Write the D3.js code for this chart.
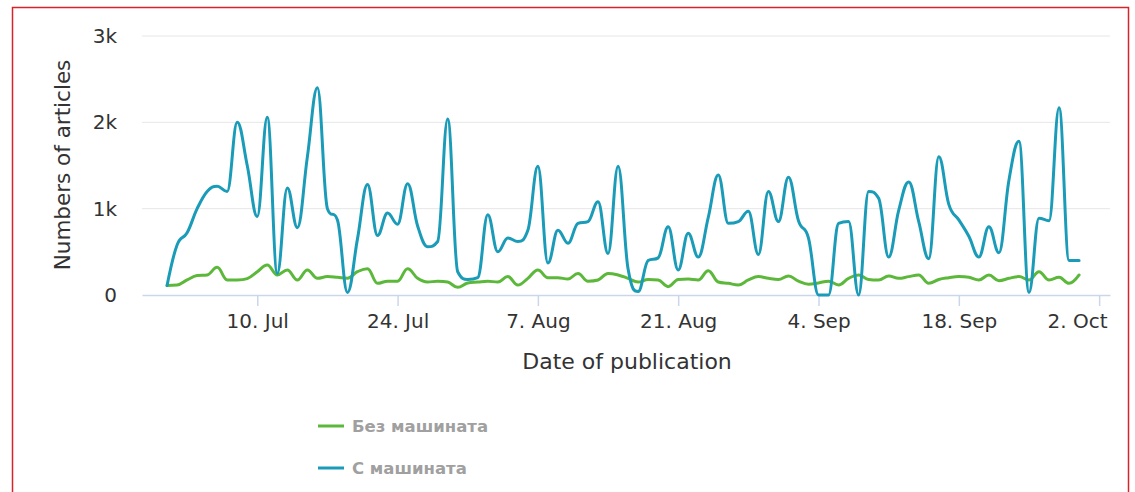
<!DOCTYPE html>
<html>
<head>
<meta charset="utf-8">
<script src="https://cdn.jsdelivr.net/npm/d3@7"></script>
<style>
  body { margin: 0; background: #fff; }
  text { font-family: "DejaVu Sans", sans-serif; }
</style>
</head>
<body>
<div id="chart"></div>
<script>
// daily counts, 1 Jul .. 30 Sep
var startDate = "2017-07-01";

var withMachine = [110, 580, 720, 1000, 1200, 1260, 1200, 2000, 1500, 910,
  2060, 250, 1240, 780, 1600, 2400, 1000, 870, 30, 650,
  1280, 690, 950, 820, 1290, 800, 560, 620, 2040, 270,
  180, 200, 930, 500, 660, 620, 750, 1490, 370, 750,
  600, 830, 850, 1080, 480, 1490, 300, 40, 400, 430,
  790, 290, 715, 440, 900, 1390, 830, 850, 970, 470,
  1200, 850, 1365, 860, 660, 0, 0, 830, 850, 0,
  1200, 1120, 440, 980, 1310, 850, 420, 1600, 1050, 870,
  680, 440, 790, 490, 1330, 1780, 30, 890, 860, 2170,
  400, 400];

var withoutMachine = [110, 115, 175, 225, 232, 320, 174, 174, 190, 270,
  348, 232, 290, 174, 290, 193, 213, 205, 195, 270,
  305, 135, 160, 160, 305, 193, 150, 160, 150, 89,
  140, 150, 160, 150, 213, 116, 193, 290, 200, 200,
  185, 250, 160, 174, 250, 232, 193, 150, 180, 174,
  97, 180, 185, 174, 282, 150, 135, 116, 174, 213,
  193, 180, 220, 160, 125, 140, 160, 116, 193, 232,
  180, 174, 220, 193, 213, 232, 135, 180, 200, 213,
  205, 174, 232, 165, 193, 213, 174, 270, 174, 205,
  135, 232];

var tickDates = ["2017-07-10", "2017-07-24", "2017-08-07", "2017-08-21",
  "2017-09-04", "2017-09-18", "2017-10-02"];
var yTicks = [0, 1000, 2000, 3000];
var yTickLabels = ["0", "1k", "2k", "3k"];

var seriesNames = ["Без машината", "С машината"];
var seriesColors = ["#5cb83a", "#1a9bb8"];

var width = 1135, height = 492;

var svg = d3.select("#chart").append("svg")
    .attr("width", width)
    .attr("height", height);

// red frame
svg.append("rect")
    .attr("x", 12.5).attr("y", 7.5)
    .attr("width", 1116).attr("height", 500)
    .attr("fill", "none")
    .attr("stroke", "#d8232a")
    .attr("stroke-width", 1.5);

var parse = d3.utcParse("%Y-%m-%d");
var day0 = parse(startDate);
function dayDate(i) { return d3.utcHour.offset(day0, i * 24); }

var x = d3.scaleUtc()
    .domain([dayDate(-2.5), dayDate(94.1)])
    .range([142, 1110]);

var y = d3.scaleLinear()
    .domain([0, 3000])
    .range([295, 36]);

// grid
svg.selectAll("line.grid").data(yTicks.slice(1)).enter().append("line")
    .attr("class", "grid")
    .attr("x1", 142).attr("x2", 1110)
    .attr("y1", function(d){ return y(d); })
    .attr("y2", function(d){ return y(d); })
    .attr("stroke", "#e6e6e6")
    .attr("stroke-width", 1);

// y labels
svg.selectAll("text.ylab").data(yTicks).enter().append("text")
    .attr("class", "ylab")
    .attr("x", 117)
    .attr("y", function(d){ return y(d); })
    .attr("dy", "0.35em")
    .attr("text-anchor", "end")
    .attr("font-size", 20)
    .attr("fill", "#333")
    .text(function(d, i){ return yTickLabels[i]; });

// x axis
var ticks = tickDates.map(parse);
var xAxis = d3.axisBottom(x)
    .tickValues(ticks)
    .tickSizeInner(11)
    .tickSizeOuter(0)
    .tickPadding(8)
    .tickFormat(d3.utcFormat("%-d. %b"));

var gx = svg.append("g")
    .attr("transform", "translate(0," + y(0) + ")")
    .call(xAxis);
gx.select(".domain").attr("stroke", "#ccd6eb").attr("stroke-width", 1.5);
gx.selectAll(".tick line").attr("stroke", "#ccd6eb").attr("stroke-width", 1.5);
gx.selectAll(".tick text")
    .attr("font-size", 20)
    .attr("font-family", "DejaVu Sans, sans-serif")
    .attr("fill", "#333");
// keep last label inside the plot, like the original
gx.selectAll(".tick text").filter(function(d, i){ return i === ticks.length - 1; })
    .attr("text-anchor", "end")
    .attr("x", 8);

// axis titles
svg.append("text")
    .attr("x", 627).attr("y", 361)
    .attr("dy", "0.35em")
    .attr("text-anchor", "middle")
    .attr("font-size", 22)
    .attr("fill", "#333")
    .text("Date of publication");

svg.append("text")
    .attr("transform", "translate(62,165) rotate(-90)")
    .attr("dy", "0.35em")
    .attr("text-anchor", "middle")
    .attr("font-size", 21.5)
    .attr("fill", "#333")
    .text("Numbers of articles");

// spline path in the Highcharts style (smoothing 1.5, no overshoot)
function splinePath(values) {
  var pts = values.map(function(v, i){ return [x(dayDate(i)), y(v)]; });
  var p = d3.path();
  var sm = 1.5, den = sm + 1;
  var rc = [];
  pts.forEach(function(pt, i){
    var lcx = pt[0], lcy = pt[1];
    if (i > 0 && i < pts.length - 1) {
      var l = pts[i - 1], n = pts[i + 1];
      lcx = (sm * pt[0] + l[0]) / den;
      lcy = (sm * pt[1] + l[1]) / den;
      var rcx = (sm * pt[0] + n[0]) / den;
      var rcy = (sm * pt[1] + n[1]) / den;
      var corr = ((rcy - lcy) * (rcx - pt[0])) / (rcx - lcx) + pt[1] - rcy;
      lcy += corr; rcy += corr;
      if (lcy > l[1] && lcy > pt[1]) { lcy = Math.max(l[1], pt[1]); rcy = 2 * pt[1] - lcy; }
      else if (lcy < l[1] && lcy < pt[1]) { lcy = Math.min(l[1], pt[1]); rcy = 2 * pt[1] - lcy; }
      if (rcy > n[1] && rcy > pt[1]) { rcy = Math.max(n[1], pt[1]); lcy = 2 * pt[1] - rcy; }
      else if (rcy < n[1] && rcy < pt[1]) { rcy = Math.min(n[1], pt[1]); lcy = 2 * pt[1] - rcy; }
      rc[i] = [rcx, rcy];
    }
    if (i === 0) {
      p.moveTo(pt[0], pt[1]);
    } else {
      var prev = rc[i - 1] || pts[i - 1];
      p.bezierCurveTo(prev[0], prev[1], lcx, lcy, pt[0], pt[1]);
    }
  });
  return p.toString();
}

[withoutMachine, withMachine].forEach(function(s, k){
  svg.append("path")
    .attr("d", splinePath(s))
    .attr("fill", "none")
    .attr("stroke", seriesColors[k])
    .attr("stroke-width", 3)
    .attr("stroke-linejoin", "round")
    .attr("stroke-linecap", "round");
});

// legend
var legend = svg.selectAll("g.legend").data(seriesNames).enter().append("g")
    .attr("class", "legend")
    .attr("transform", function(d, i){ return "translate(318," + (426 + i * 42) + ")"; });

legend.append("line")
    .attr("x1", 0).attr("x2", 26)
    .attr("stroke", function(d, i){ return seriesColors[i]; })
    .attr("stroke-width", 3);

legend.append("text")
    .attr("x", 34)
    .attr("dy", "0.35em")
    .attr("font-size", 16.5)
    .attr("font-weight", "bold")
    .attr("fill", "#a0a0a0")
    .text(function(d){ return d; });
</script>
</body>
</html>
